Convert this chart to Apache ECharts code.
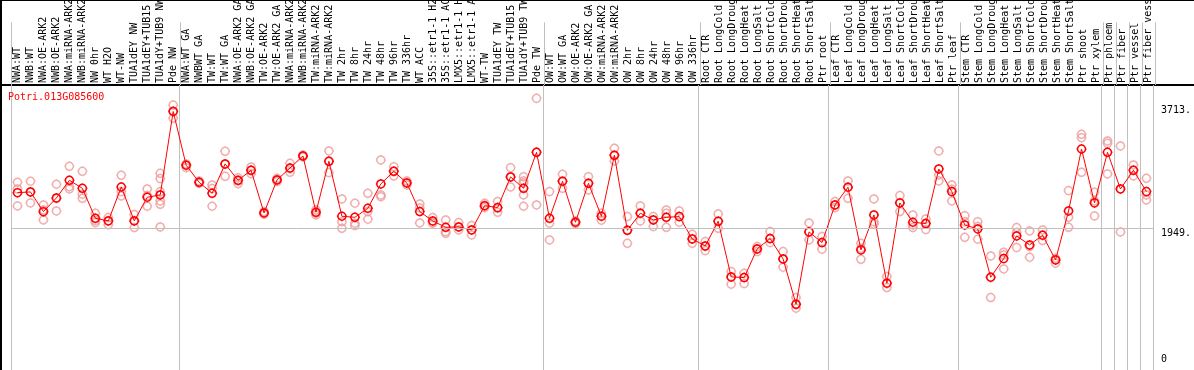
<!DOCTYPE html>
<html>
<head>
<meta charset="utf-8">
<title>Potri.013G085600</title>
<script src="https://cdn.jsdelivr.net/npm/echarts@6/dist/echarts.min.js"></script>
<style>
html, body { margin: 0; padding: 0; background: #fff; }
#chart { width: 1194px; height: 370px; }
</style>
</head>
<body>
<div id="chart"></div>
<script>
var geneName = 'Potri.013G085600';

// sample groups (each group is separated by a gray line)
var groupNW = ['NWA:WT', 'NWB:WT', 'NWA:OE-ARK2', 'NWB:OE-ARK2', 'NWA:miRNA-ARK2', 'NWB:miRNA-ARK2',
  'NW 0hr', 'WT H2O', 'WT-NW', 'TUA1dEY NW', 'TUA1dEY+TUB15 NW', 'TUA1dY+TUB9 NW', 'Pde NW'];
var groupTW = ['NWA:WT GA', 'NWBWT GA', 'TW:WT', 'TW:WT GA', 'NWA:OE-ARK2 GA', 'NWB:OE-ARK2 GA',
  'TW:OE-ARK2', 'TW:OE-ARK2 GA', 'NWA:miRNA-ARK2 GA', 'NWB:miRNA-ARK2 GA', 'TW:miRNA-ARK2', 'TW:miRNA-ARK2 GA',
  'TW 2hr', 'TW 8hr', 'TW 24hr', 'TW 48hr', 'TW 96hr', 'TW 336hr', 'WT ACC',
  '35S::etr1-1 H2O', '35S::etr1-1 ACC', 'LMX5::etr1-1 H2O', 'LMX5::etr1-1 ACC',
  'WT-TW', 'TUA1dEY TW', 'TUA1dEY+TUB15 TW', 'TUA1dY+TUB9 TW', 'Pde TW'];
var groupOW = ['OW:WT', 'OW:WT GA', 'OW:OE-ARK2', 'OW:OE-ARK2 GA', 'OW:miRNA-ARK2', 'OW:miRNA-ARK2 GA',
  'OW 2hr', 'OW 8hr', 'OW 24hr', 'OW 48hr', 'OW 96hr', 'OW 336hr'];
var groupRoot = ['Root CTR', 'Root LongCold', 'Root LongDrought', 'Root LongHeat', 'Root LongSalt',
  'Root ShortCold', 'Root ShortDrought', 'Root ShortHeat', 'Root ShortSalt', 'Ptr root'];
var groupLeaf = ['Leaf CTR', 'Leaf LongCold', 'Leaf LongDrought', 'Leaf LongHeat', 'Leaf LongSalt',
  'Leaf ShortCold', 'Leaf ShortDrought', 'Leaf ShortHeat', 'Leaf ShortSalt', 'Ptr leaf'];
var groupStem = ['Stem CTR', 'Stem LongCold', 'Stem LongDrought', 'Stem LongHeat', 'Stem LongSalt',
  'Stem ShortCold', 'Stem ShortDrought', 'Stem ShortHeat', 'Stem ShortSalt', 'Ptr shoot', 'Ptr xylem'];
var groupPtr = ['Ptr phloem', 'Ptr fiber', 'Ptr vessel', 'Ptr fiber vessel'];

var categories = [].concat(groupNW, groupTW, groupOW, groupRoot, groupLeaf, groupStem, groupPtr);

// first category index of every separated block
var separatorIndex = [0, 13, 41, 53, 63, 73, 84, 85, 86, 87];

// mean expression (red line)
var meanValues = [
  2459, 2469, 2187, 2383, 2636, 2521, 2092, 2054, 2540, 2054, 2393, 2426, 3621,
  2851, 2607, 2450, 2870, 2636, 2779, 2168, 2641, 2812, 2984, 2178, 2908, 2121, 2106,
  2235, 2583, 2765, 2598, 2188, 2054, 1963, 1968, 1925, 2273, 2245, 2684, 2521, 3037,
  2092, 2622, 2035, 2593, 2121, 2994, 1920, 2164, 2068, 2106, 2116, 1796,
  1696, 2049, 1253, 1243, 1653, 1801, 1510, 861, 1897, 1744,
  2283, 2536, 1639, 2140, 1162, 2312, 2035, 2016, 2798, 2474,
  1997, 1939, 1248, 1515, 1839, 1711, 1849, 1496, 2197, 3084, 2312,
  3037, 2512, 2779, 2474
];

// single replicates (pink circles)
var replicateValues = [
  [2607, 2512, 2269], [2622, 2469, 2312], [2283, 2211, 2068], [2579, 2374, 2197],
  [2836, 2545, 2512], [2765, 2436, 2378], [2164, 2059, 2030], [2102, 2059, 2001],
  [2707, 2474, 2412], [2145, 2059, 1959], [2512, 2417, 2264],
  [2736, 2660, 2474, 2426, 2340, 2292, 1968], [3713, 3628, 3523],
  [2870, 2851, 2817], [2626, 2607, 2593], [2569, 2517, 2264], [3051, 2865, 2693],
  [2674, 2626, 2588], [2827, 2779, 2731], [2188, 2168, 2149], [2664, 2641, 2617],
  [2879, 2798, 2750], [2998, 2984, 2970], [2211, 2164, 2140], [3056, 2908, 2746],
  [2369, 2044, 1949], [2307, 2021, 1987], [2450, 2188, 2078], [2927, 2426, 2402],
  [2831, 2765, 2698], [2626, 2598, 2569], [2297, 2240, 2025], [2102, 2030, 2021],
  [2068, 1901, 1877], [2030, 1968, 1925], [1987, 1925, 1854], [2307, 2273, 2245],
  [2331, 2235, 2178], [2817, 2684, 2540], [2688, 2626, 2598, 2426, 2264], [3809, 3037, 2283],
  [2474, 2021, 1782], [2722, 2622, 2521], [2054, 2035, 2016], [2688, 2593, 2498],
  [2164, 2121, 2064], [3094, 2994, 2913], [2116, 1920, 1734], [2269, 2164, 2054],
  [2116, 2068, 1973], [2211, 2164, 1963], [2197, 2116, 2035], [1863, 1796, 1734],
  [1758, 1687, 1629], [2154, 2049, 1949], [1329, 1253, 1148], [1305, 1243, 1157],
  [1687, 1653, 1615], [1901, 1801, 1744], [1615, 1510, 1391], [957, 861, 804],
  [2025, 1897, 1782], [1830, 1744, 1649],
  [2331, 2283, 2245], [2626, 2536, 2378], [1734, 1663, 1505], [2369, 2044, 2006],
  [1257, 1162, 1100], [2417, 2316, 2188], [2140, 1997, 1959], [2083, 2020, 1930],
  [3056, 2712, 2626], [2569, 2507, 2340],
  [2130, 2044, 1820], [2044, 1973, 1792], [1553, 1248, 957], [1606, 1567, 1367],
  [1959, 1887, 1672], [1911, 1687, 1534], [1925, 1854, 1773], [1520, 1496, 1448],
  [2488, 2106, 1963], [3294, 3246, 2750], [2464, 2340, 2126],
  [3199, 3165, 2727], [3127, 2512, 1897], [2855, 2779, 2698], [2664, 2426, 2355]
];

var yLabelValues = [1949, 3713];
var yZeroLabel = [0];
var midLine = 1949;

var mono = 'DejaVu Sans Mono';
// open circle with four small ticks
var marker = 'path://M1,5A4,4 0 1 1 9,5A4,4 0 1 1 1,5ZM5,0L5,1.3M5,8.7L5,10M0,5L1.3,5M8.7,5L10,5';

var replicatePoints = [];
for (var i = 0; i < replicateValues.length; i++) {
  for (var j = 0; j < replicateValues[i].length; j++) {
    replicatePoints.push([i, replicateValues[i][j]]);
  }
}

function isSeparator(index) {
  return separatorIndex.indexOf(index) >= 0;
}

var chart = echarts.init(document.getElementById('chart'));
var option = {
  animation: false,
  title: {
    text: geneName, left: 8, top: 92, padding: 0,
    textStyle: { color: '#ff0000', fontFamily: mono, fontSize: 10, fontWeight: 'normal' }
  },
  grid: [
    { left: 11, right: 39, top: 0, height: 85 },
    { left: 11, right: 39, top: 85, bottom: 0 }
  ],
  xAxis: [{
    gridIndex: 0, type: 'category', data: categories, position: 'bottom',
    axisLine: { show: false }, axisTick: { show: false },
    axisLabel: { inside: true, rotate: 90, interval: 0, margin: 2, color: '#000', fontFamily: mono, fontSize: 10 },
    splitLine: { show: true, interval: isSeparator, lineStyle: { color: '#c0c0c0', width: 1 } }
  }, {
    gridIndex: 1, type: 'category', data: categories,
    axisLine: { show: false }, axisTick: { show: false }, axisLabel: { show: false },
    splitLine: { show: true, interval: isSeparator, lineStyle: { color: '#c0c0c0', width: 1 } }
  }],
  yAxis: [{
    gridIndex: 0, type: 'value', show: false
  }, {
    gridIndex: 1, type: 'value', position: 'right', min: -80, max: 4000,
    axisLine: { show: false }, axisTick: { show: false }, splitLine: { show: false },
    axisLabel: {
      customValues: yLabelValues, verticalAlign: 'top', margin: 8,
      color: '#000', fontFamily: mono, fontSize: 10,
      formatter: function (v) { return v + '.'; }
    }
  }, {
    gridIndex: 1, type: 'value', position: 'right', min: -80, max: 4000,
    axisLine: { show: false }, axisTick: { show: false }, splitLine: { show: false },
    axisLabel: {
      customValues: yZeroLabel, verticalAlign: 'bottom', margin: 8,
      color: '#000', fontFamily: mono, fontSize: 10
    }
  }],
  series: [{
    type: 'scatter', xAxisIndex: 1, yAxisIndex: 1,
    data: replicatePoints,
    symbol: marker, symbolSize: 10,
    itemStyle: { color: 'rgba(0,0,0,0)', borderColor: '#ee9a9a', borderWidth: 1.5 },
    z: 2
  }, {
    type: 'line', xAxisIndex: 1, yAxisIndex: 1,
    data: meanValues,
    symbol: marker, symbolSize: 10, showAllSymbol: true,
    lineStyle: { color: '#ff0000', width: 1 },
    itemStyle: { color: 'rgba(0,0,0,0)', borderColor: '#ff0000', borderWidth: 1.5 },
    markLine: {
      silent: true, symbol: 'none', label: { show: false },
      lineStyle: { color: '#c0c0c0', type: 'solid', width: 1 },
      data: [{ yAxis: midLine }]
    },
    z: 3
  }],
  graphic: [
    { type: 'line', shape: { x1: 0, y1: 0.5, x2: 1194, y2: 0.5 }, style: { stroke: '#000', lineWidth: 1 } },
    { type: 'line', shape: { x1: 1, y1: 0, x2: 1, y2: 370 }, style: { stroke: '#000', lineWidth: 2 } },
    { type: 'line', shape: { x1: 0, y1: 85, x2: 1194, y2: 85 }, style: { stroke: '#000', lineWidth: 2 } }
  ]
};
chart.setOption(option);
</script>
</body>
</html>
